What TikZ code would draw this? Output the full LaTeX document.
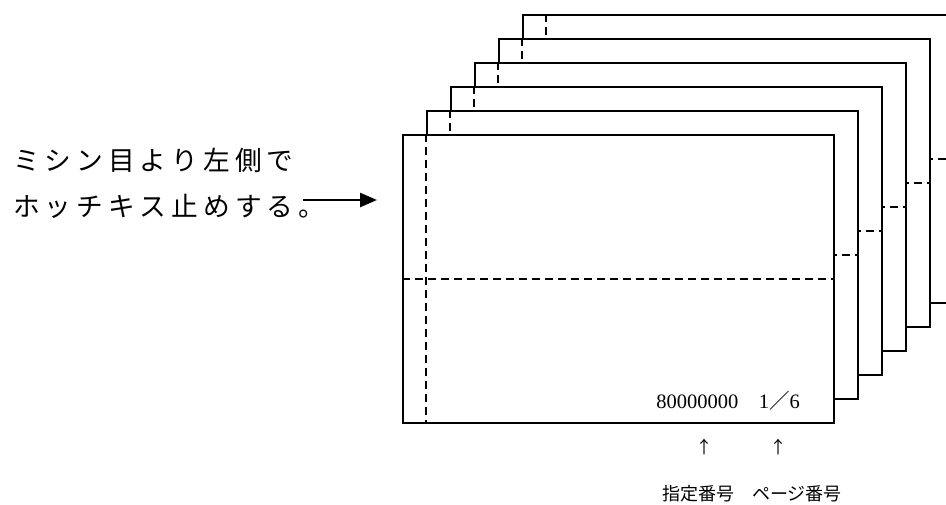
\documentclass[tikz,border=0pt]{standalone}
\usepackage{fontspec}
\setmainfont{Liberation Serif}
\newfontfamily\cjk{Noto Sans CJK JP}
\usetikzlibrary{arrows.meta,calc}
\def\spcloop#1{\ifx#1\relax\else#1\kern5pt\expandafter\spcloop\fi}
\newcommand\spaced[1]{\spcloop#1\relax}
\tikzset{
  sheet/.style={rectangle, draw=black, line width=2.2pt, fill=white,
    minimum width=431.3pt, minimum height=288pt, inner sep=0pt, anchor=north west},
  perf/.style={line width=1.9pt, dash pattern=on 8pt off 5pt},
  jtext/.style={font=\cjk\fontsize{26.7}{30}\selectfont, inner sep=0pt, anchor=west},
  numtext/.style={font=\fontsize{20.5}{24}\selectfont, inner sep=0pt},
  uptext/.style={font=\cjk\fontsize{17}{20}\selectfont, inner sep=0pt},
  labtext/.style={font=\cjk\fontsize{18}{22}\selectfont, inner sep=0pt},
  pointer/.style={line width=2.5pt, -{Triangle[length=17pt,width=14pt]}}
}
\begin{document}
\begin{tikzpicture}[x=1pt,y=-1pt]
\useasboundingbox (0,0) rectangle (946,504);
\clip (0,0) rectangle (946,504);
\foreach \k in {5,4,3,2,1,0} {
  \node[sheet] (s\k) at ({401.7+24*\k},{134-24*\k}) {};
  \draw[perf] ($(s\k.north west)+(24,0)$) -- ($(s\k.south west)+(24,0)$);
  \draw[perf] (s\k.west) -- (s\k.east);
}
\node[jtext] (l1) at (13,160) {\spaced{ミシン目より左側で}};
\node[jtext] (l2) at (13,206) {\spaced{ホッチキス止めする。}};
\coordinate (aS) at (303,200);
\coordinate (aE) at (377,200);
\draw[pointer] (aS) -- (aE);
\node[numtext] (num) at (728,401) {80000000{\cjk　}1{\cjk／}6};
\node[uptext] (up1) at (704,447) {↑};
\node[uptext] (up2) at (778,447) {↑};
\node[labtext] (lab) at (752,494) {指定番号　ページ番号};
\end{tikzpicture}
\end{document}
